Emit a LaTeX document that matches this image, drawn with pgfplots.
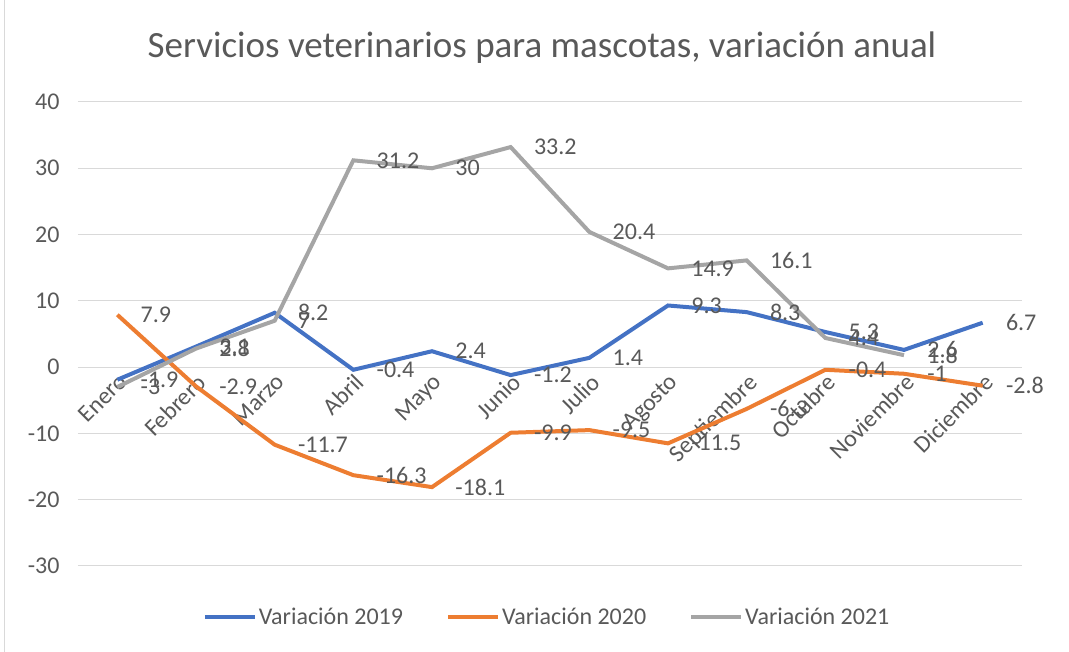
\documentclass[border=0pt]{standalone}
\usepackage{pgfplots}
\pgfplotsset{compat=1.18}
\usepackage{fontspec}
\setmainfont{Carlito}
\definecolor{cblue}{HTML}{4472C4}
\definecolor{corange}{HTML}{ED7D31}
\definecolor{cgray}{HTML}{A5A5A5}
\definecolor{grid}{HTML}{D9D9D9}
\definecolor{txt}{HTML}{595959}
\begin{document}
\begin{tikzpicture}
\useasboundingbox (-78pt,-86pt) rectangle (991pt,566pt);
\draw[grid, line width=1pt] (-73pt,-86pt) -- (-73pt,566pt);
\begin{axis}[
  scale only axis, width=944pt, height=464pt,
  xmin=-0.5, xmax=11.5, ymin=-30, ymax=40,
  axis x line=middle, axis y line=left,
  hide obscured x ticks=false, hide obscured y ticks=false,
  x axis line style={draw=grid, line width=1pt, -},
  y axis line style={draw=none},
  xtick={0,...,11},
  xticklabels={Enero,Febrero,Marzo,Abril,Mayo,Junio,Julio,Agosto,Septiembre,Octubre,Noviembre,Diciembre},
  ytick={-30,-20,...,40},
  major tick length=0pt,
  tick style={draw=none},
  ymajorgrids, grid style={draw=grid, line width=1pt},
  xticklabel style={rotate=45, anchor=north east, font=\fontsize{24}{28}\selectfont, text=txt, inner sep=3.5pt},
  yticklabel style={anchor=east, xshift=-15pt, font=\fontsize{24}{28}\selectfont, text=txt},
  /pgf/number format/assume math mode=true,
  clip=false,
  nodes near coords={\pgfmathprintnumber[fixed,precision=1,assume math mode=true]{\pgfplotspointmeta}},
  every node near coord/.append style={anchor=west, xshift=18pt, font=\fontsize{24}{28}\selectfont, text=txt},
  legend columns=3,
  legend style={at={(0.497,-0.110)}, anchor=center, draw=none, fill=none,
    font=\fontsize{24}{28}\selectfont, text=txt,
    /tikz/every even column/.append style={column sep=41pt}},
  legend image code/.code={\draw[#1] (0pt,0pt) -- (50pt,0pt);},
  every axis plot/.append style={line width=4pt, mark=none},
]
\addplot[cblue] coordinates {(0,-1.9) (1,3.1) (2,8.2) (3,-0.4) (4,2.4) (5,-1.2) (6,1.4) (7,9.3) (8,8.3) (9,5.3) (10,2.6) (11,6.7)};
\addplot[corange] coordinates {(0,7.9) (1,-2.9) (2,-11.7) (3,-16.3) (4,-18.1) (5,-9.9) (6,-9.5) (7,-11.5) (8,-6.3) (9,-0.4) (10,-1) (11,-2.8)};
\addplot[cgray] coordinates {(0,-3) (1,2.8) (2,7) (3,31.2) (4,30) (5,33.2) (6,20.4) (7,14.9) (8,16.1) (9,4.4) (10,1.8)};
\legend{Variación 2019,Variación 2020,Variación 2021}
\end{axis}
\node[text=txt, font=\fontsize{37}{44}\selectfont] at (464pt,518pt) {Servicios veterinarios para mascotas, variación anual};
\end{tikzpicture}
\end{document}
